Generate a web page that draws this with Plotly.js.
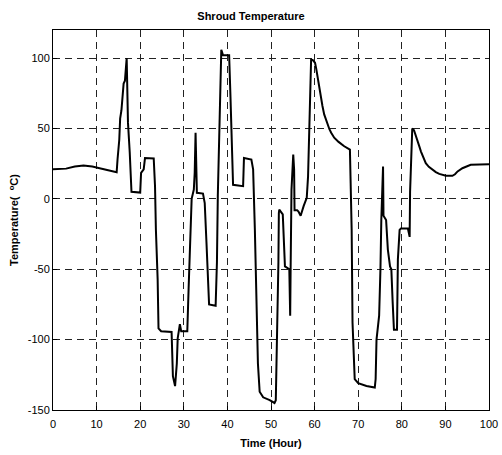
<!DOCTYPE html>
<html>
<head>
<meta charset="utf-8">
<script src="https://cdn.plot.ly/plotly-3.0.1.min.js"></script>
<style>html,body{margin:0;padding:0;background:#fff;}#chart{width:502px;height:455px;}</style>
</head>
<body>
<div id="chart"></div>
<script>
const timeHours = [
  0, 3, 5, 7, 9, 11, 13, 14.6, 14.8, 15.2, 15.4, 15.7, 16.2, 16.5, 16.9, 17.2, 17.6, 18.0,
  20.0, 20.2, 20.8, 21.1, 23.1, 23.4, 23.6, 24.0, 24.2, 24.8, 27.2, 27.5, 28.0, 28.4, 28.6,
  29.1, 29.4, 30.8, 31.1, 31.5, 31.8, 32.3, 32.5, 32.7, 32.9, 33.0, 34.4, 34.8, 35.2, 35.6,
  35.8, 37.3, 37.6, 37.8, 38.1, 38.5, 38.6, 39.0, 40.4, 40.7, 41.1, 41.3, 43.6, 43.8, 45.5,
  45.9, 46.3, 46.6, 47.0, 47.4, 48.2, 49.7, 50.8, 51.1, 51.4, 51.7, 51.8, 51.9, 52.7, 53.2,
  54.2, 54.4, 54.5, 54.7, 55.1, 55.3, 55.4, 56.0, 56.3, 56.8, 57.5, 58.2, 58.5, 58.8, 59.0,
  59.2, 59.6, 60.1, 60.4, 60.7, 61.0, 61.5, 61.8, 62.2, 62.7, 63.4, 63.8, 64.5, 65.5, 66.8,
  68.1, 68.5, 68.7, 69.0, 69.2, 70.0,
  71.9, 73.8, 74.0, 74.2, 74.5, 74.8, 75.1, 75.3, 75.7, 75.8, 76.4, 76.8, 77.3, 77.6, 77.9,
  78.2, 78.9, 79.1, 79.5, 79.8, 81.4, 81.8, 81.9, 82.1, 82.4, 82.8, 83.2, 83.6, 84.0, 84.4,
  84.9, 85.5, 86.2, 87.0, 87.8, 88.6, 89.3, 90.1, 91.6, 92.2, 92.8, 93.9, 95.8, 100
];
const shroudTemp = [
  21, 21.5, 23, 23.7, 23, 21.5, 20, 19, 28, 42, 57, 63, 82, 84, 100, 54, 33, 5,
  4.5, 18.5, 21, 29, 28.7, 9, -22, -57, -92, -94, -94.5, -126, -133, -117, -99,
  -89, -94, -94, -64, -22, 0, 6.6, 18.5, 47, 21, 4.3, 3.8, -3, -31, -55,
  -75, -76, -45, 2, 49, 85, 106, 102, 102, 73, 26, 10, 9, 29, 28,
  21, -22, -69, -117, -137, -141, -143, -145, -143, -100, -45, -10, -7.6, -11, -48,
  -50, -83, -50, 6.6, 31.5, 21, -8, -8, -9, -12, -5, 0.7, 16, 49, 73,
  99, 98.6, 96.7, 92, 86, 80, 71, 66, 60, 55, 49.5, 47, 43.5, 40.5, 37.4,
  35, -22, -88, -117, -128, -131,
  -133, -134, -128, -100, -93, -83, -50, -15, 23, -12, -15, -36, -48, -50, -73,
  -93, -93, -43, -22, -21, -21, -27, 5, 21, 50, 48.8, 45.5, 41.8, 37.5, 33.6,
  29.5, 25.4, 22.8, 20.7, 19.0, 17.8, 17.0, 16.4, 16.4, 17.5, 19.5, 21.8, 24.2, 24.6
];
const xTicks = [0, 10, 20, 30, 40, 50, 60, 70, 80, 90, 100];
const yTicks = [-150, -100, -50, 0, 50, 100];

const font = "Liberation Sans, Arial, sans-serif";
const axisCommon = {
  showline: true, mirror: true, linecolor: '#000', linewidth: 1,
  showgrid: true, gridcolor: '#222', gridwidth: 1, griddash: '7px,5px',
  zeroline: false, ticks: 'inside', ticklen: 4, tickcolor: '#000',
  tickfont: {family: font, size: 11, color: '#000'}
};

Plotly.newPlot('chart', [{
  x: timeHours, y: shroudTemp, type: 'scatter', mode: 'lines',
  line: {color: '#000', width: 2}, hoverinfo: 'skip'
}], {
  width: 502, height: 455,
  margin: {l: 53, r: 13, t: 30, b: 45},
  paper_bgcolor: '#fff', plot_bgcolor: '#fff',
  showlegend: false,
  title: {text: 'Shroud Temperature', font: {family: font, size: 11, color: '#000', weight: 'bold'},
          x: 0.5, xanchor: 'center', y: 1 - 16/455, yanchor: 'middle'},
  xaxis: Object.assign({}, axisCommon, {
    range: [0, 100], tickvals: xTicks, ticktext: xTicks.map(String), ticklabelstandoff: 4,
    title: {text: 'Time (Hour)', font: {family: font, size: 11, color: '#000', weight: 'bold'}, standoff: 10}
  }),
  yaxis: Object.assign({}, axisCommon, {
    range: [-150, 120], tickvals: yTicks, ticktext: yTicks.map(String),
    title: {text: 'Temperature(  <sup>o</sup>C)', font: {family: font, size: 11, color: '#000', weight: 'bold'}, standoff: 6}
  })
}, {staticPlot: true});
</script>
</body>
</html>
